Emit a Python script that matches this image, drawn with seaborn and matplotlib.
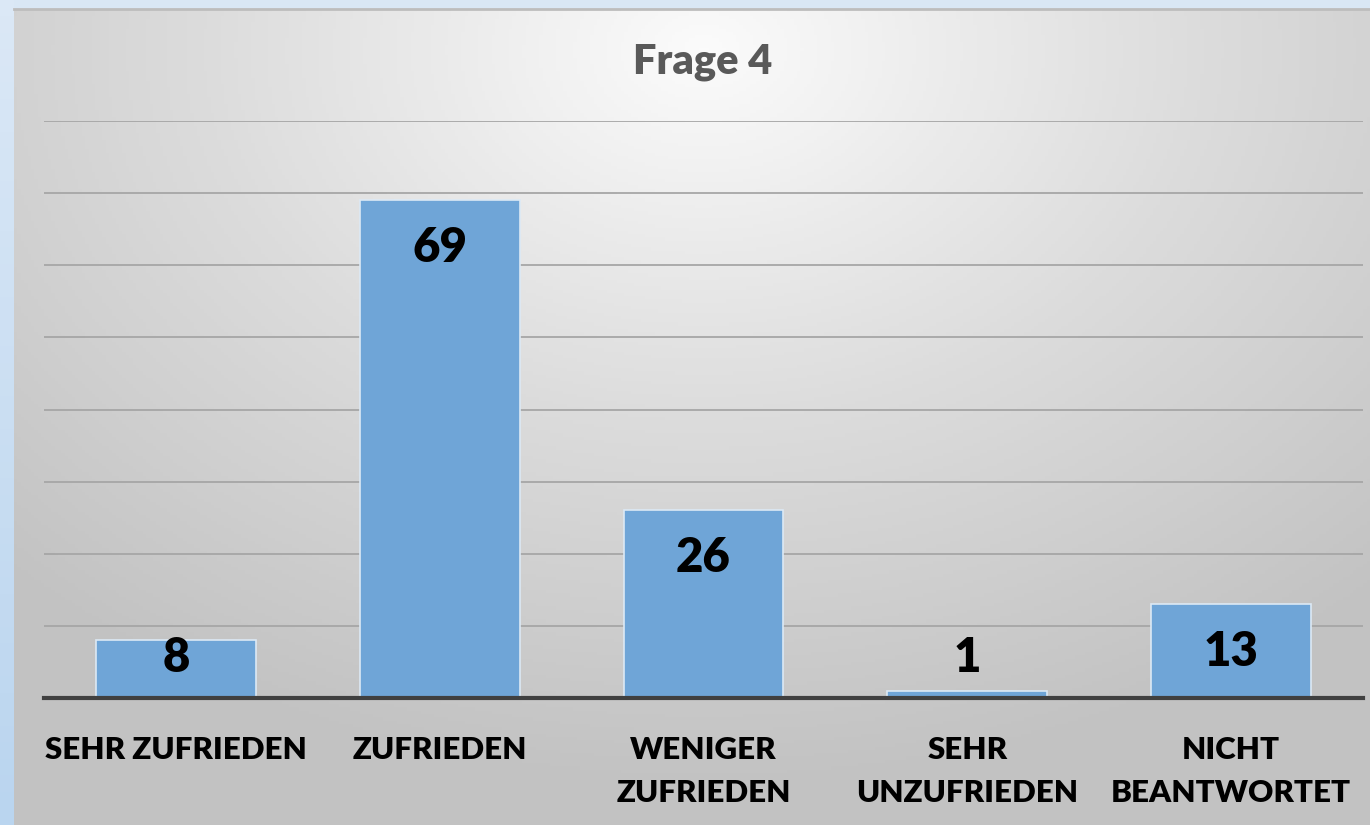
import numpy as np
import matplotlib
matplotlib.use("Agg")
import matplotlib.pyplot as plt
import seaborn as sns

categories = ["SEHR ZUFRIEDEN", "ZUFRIEDEN", "WENIGER\nZUFRIEDEN", "SEHR\nUNZUFRIEDEN", "NICHT\nBEANTWORTET"]
values = [8, 69, 26, 1, 13]
title = "Frage 4"

W, H = 1370, 825
BAR_COLOR = "#6fa5d7"

sns.set_style("white")
plt.rcParams["font.family"] = ["Lato", "DejaVu Sans"]

fig = plt.figure(figsize=(W / 100, H / 100), dpi=100)
fig.patch.set_facecolor("#d9e7f5")

# light blue strip at the left side of the slide
strip = fig.add_axes([0, 0, 14 / W, 1])
strip.imshow(np.linspace(0, 1, 50).reshape(-1, 1), cmap=matplotlib.colors.LinearSegmentedColormap.from_list("b", ["#dbe8f6", "#bad5ef"]),
             aspect="auto", extent=[0, 1, 0, 1])
strip.axis("off")

# chart area with radial grey gradient
bg = fig.add_axes([14 / W, 0, 1 - 14 / W, 1 - 9 / H])
gx, gy = np.meshgrid(np.linspace(0, 1356, 400), np.linspace(0, 816, 250))
r = np.sqrt(((gx - 690) / 1.0) ** 2 + ((gy - 40) * 1.35) ** 2)
r = np.clip(r / 1000, 0, 1)
grad = matplotlib.colors.LinearSegmentedColormap.from_list("g", ["#fbfbfb", "#dcdcdc", "#c2c2c2"])
bg.imshow(r, cmap=grad, aspect="auto", extent=[0, 1, 0, 1], origin="upper")
bg.set_xticks([])
bg.set_yticks([])
for s in bg.spines.values():
    s.set_visible(False)
bg.spines["top"].set_visible(True)
bg.spines["top"].set_color("#bdbdbd")
bg.spines["top"].set_linewidth(2)

ax = fig.add_axes([44 / W, (H - 698) / H, (1363 - 44) / W, (698 - 121) / H])
ax.patch.set_alpha(0)
sns.barplot(x=categories, y=values, color=BAR_COLOR, width=0.606, saturation=1,
            edgecolor="#dce9f5", linewidth=1.2, ax=ax)
ax.set_ylim(0, 80)
ax.set_xlim(-0.5, len(categories) - 0.5)
ax.set_yticks(np.arange(0, 81, 10))
ax.yaxis.grid(True, color="#a6a6a6", linewidth=1.3)
ax.set_axisbelow(True)
ax.tick_params(axis="y", left=False, labelleft=False)
ax.tick_params(axis="x", bottom=False, pad=24)
for s in ["left", "right", "top"]:
    ax.spines[s].set_visible(False)
ax.spines["bottom"].set_color("#404040")
ax.spines["bottom"].set_linewidth(3)
ax.set_xlabel("")
ax.set_ylabel("")
for lbl in ax.get_xticklabels():
    lbl.set_fontsize(22.5)
    lbl.set_fontweight("heavy")
    lbl.set_color("black")
    lbl.set_va("top")
    lbl.set_linespacing(1.65)

for i, v in enumerate(values):
    ypos = max(v - 6.65, 5.6)
    ax.text(i, ypos, str(v), ha="center", va="center", fontsize=34, fontweight="heavy", color="black")

fig.text(703 / W, 1 - 62 / H, title, ha="center", va="center", fontsize=30, fontweight="heavy", color="#595959")

fig.savefig("out.png", dpi=100)
